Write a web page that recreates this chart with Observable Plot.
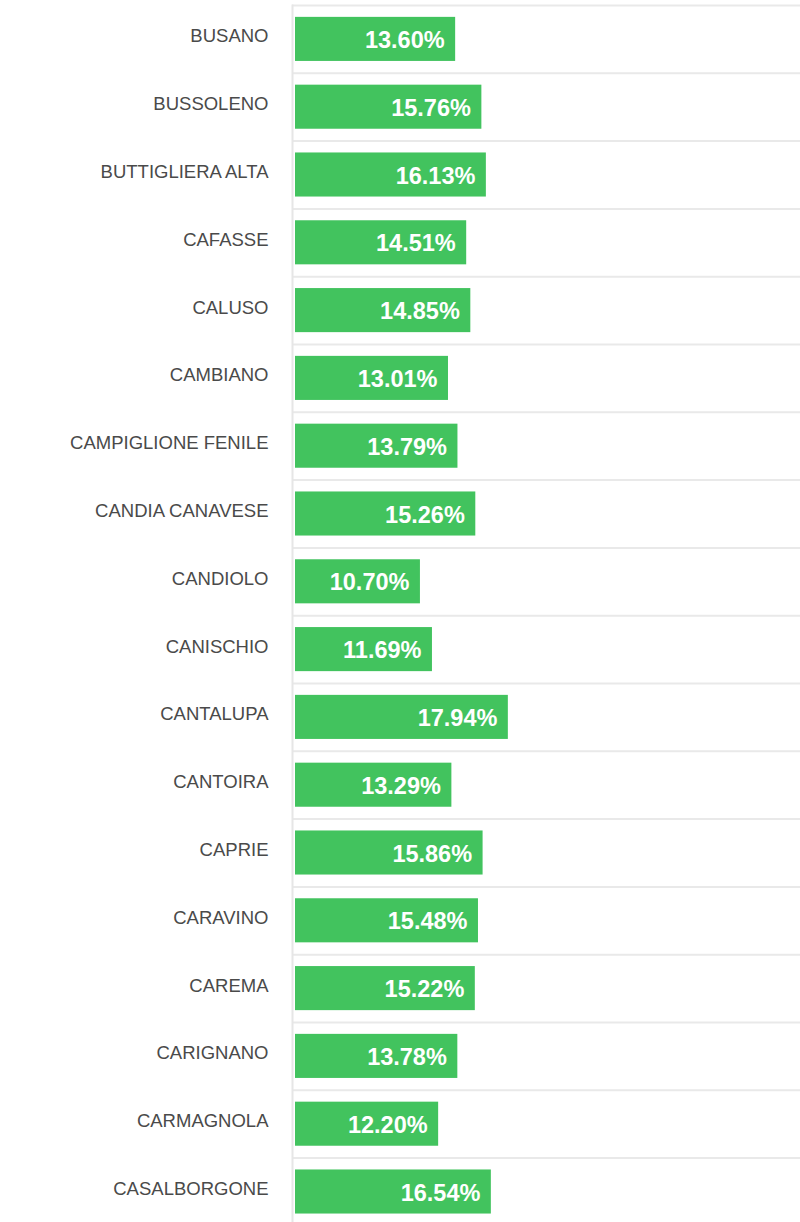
<!DOCTYPE html>
<html>
<head>
<meta charset="utf-8">
<script src="https://cdn.jsdelivr.net/npm/d3@7"></script>
<script src="https://cdn.jsdelivr.net/npm/@observablehq/plot@0.6"></script>
<style>
  html, body { margin: 0; padding: 0; background: #fff; }
  #chart { width: 800px; height: 1222px; overflow: hidden; }
</style>
</head>
<body>
<div id="chart"></div>
<script>
const comuni = ["BUSANO","BUSSOLENO","BUTTIGLIERA ALTA","CAFASSE","CALUSO","CAMBIANO","CAMPIGLIONE FENILE","CANDIA CANAVESE","CANDIOLO","CANISCHIO","CANTALUPA","CANTOIRA","CAPRIE","CARAVINO","CAREMA","CARIGNANO","CARMAGNOLA","CASALBORGONE"];
const valori = [13.60,15.76,16.13,14.51,14.85,13.01,13.79,15.26,10.70,11.69,17.94,13.29,15.86,15.48,15.22,13.78,12.20,16.54];

const data = comuni.map((name, i) => ({name, value: valori[i]}));
const step = 67.8;

const chart = Plot.plot({
  width: 800,
  height: 1222,
  marginLeft: 292,
  marginRight: 0,
  marginTop: 5,
  marginBottom: 0,
  style: {fontFamily: "'Liberation Sans', Arial, sans-serif", background: "#fff", overflow: "hidden"},
  x: {domain: [0, 42], range: [290, 800], axis: null},
  y: {domain: comuni, range: [5, 5 + step * comuni.length], paddingInner: 0.35, paddingOuter: 0.175, round: false, axis: null},
  marks: [
    Plot.ruleY(comuni, {y: d => d, dy: -step / 2, stroke: "#e9e9e9", strokeWidth: 2}),
    Plot.frame({anchor: "left", stroke: "#e6e6e6", strokeWidth: 2}),
    Plot.barX(data, {x1: 0, x2: "value", y: "name", fill: "#42c35e", insetLeft: 5}),
    Plot.text(data, {y: "name", text: "name", frameAnchor: "left", dx: -24, dy: -3, textAnchor: "end", fill: "#4a4a4a", fontSize: 18.5}),
    Plot.text(data, {x: "value", y: "name", text: d => d.value.toFixed(2) + "%", textAnchor: "end", dx: -11, dy: 1, fill: "#fff", fontWeight: "bold", fontSize: 23.5})
  ]
});
document.getElementById("chart").appendChild(chart);
</script>
</body>
</html>
